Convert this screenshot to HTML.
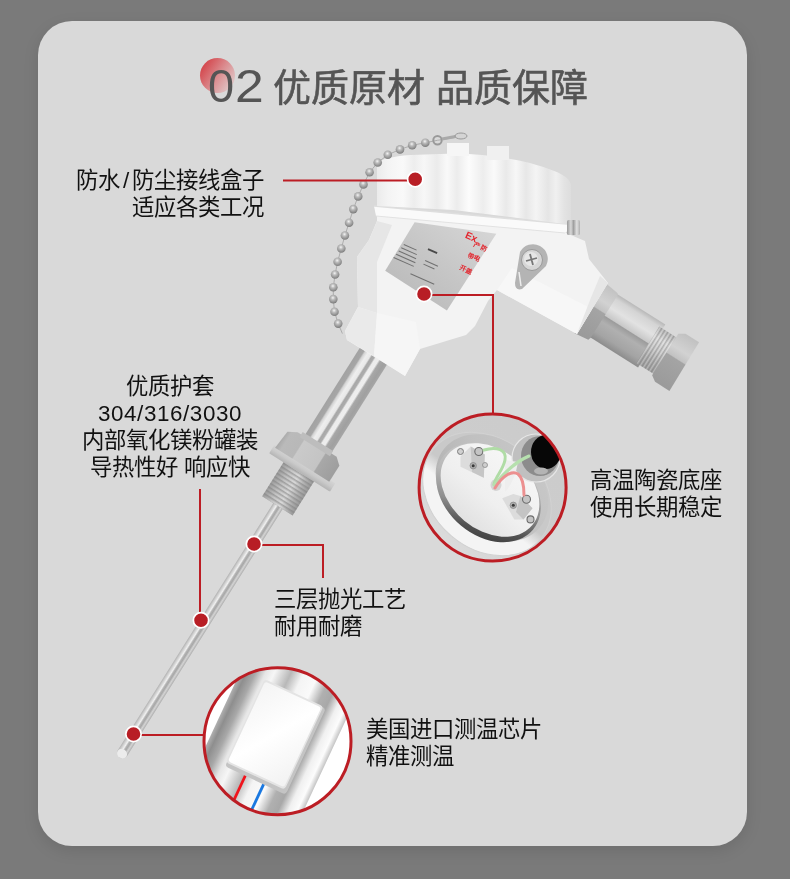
<!DOCTYPE html>
<html lang="zh-CN">
<head>
<meta charset="utf-8">
<style>
html,body{margin:0;padding:0;}
body{width:790px;height:879px;background:#7a7a7a;position:relative;overflow:hidden;font-family:"Liberation Sans",sans-serif;}
.card{position:absolute;left:38px;top:21px;width:709px;height:825px;background:#d9d9d9;border-radius:34px;box-shadow:0 5px 16px rgba(0,0,0,0.10);}
svg{position:absolute;left:0;top:0;}
.t{position:absolute;font-size:22.4px;line-height:27px;color:#111;white-space:nowrap;will-change:transform;}
.num{position:absolute;left:208px;top:61px;font-size:47px;line-height:50px;color:#555;white-space:nowrap;transform:scaleX(1.1);transform-origin:0 0;will-change:transform;}
.ttl{position:absolute;top:60px;font-size:38px;line-height:56px;color:#555;font-weight:500;white-space:nowrap;will-change:transform;-webkit-text-stroke:0.6px #555;}
</style>
</head>
<body>
<div class="card"></div>
<svg width="790" height="879" viewBox="0 0 790 879">
  <defs>
    <linearGradient id="tdot" x1="0.05" y1="0.25" x2="0.95" y2="0.85">
      <stop offset="0" stop-color="#d4464c"/>
      <stop offset="0.5" stop-color="#db8d90"/>
      <stop offset="1" stop-color="#dfcdcd"/>
    </linearGradient>
  </defs>
  <circle cx="217.5" cy="75.5" r="17.5" fill="url(#tdot)"/>
</svg>
<div class="num" style="left:208px;transform:scaleX(1.0)">0</div><div class="num" style="left:235px">2</div>
<div class="ttl" style="left:273px">优质原材</div>
<div class="ttl" style="left:436px">品质保障</div>

<svg width="790" height="879" viewBox="0 0 790 879">
<defs>
  <linearGradient id="rodG" gradientUnits="userSpaceOnUse" x1="-14.5" y1="0" x2="17.5" y2="0">
    <stop offset="0" stop-color="#a2a2a2"/>
    <stop offset="0.16" stop-color="#a6a6a6"/>
    <stop offset="0.21" stop-color="#d4d4d4"/>
    <stop offset="0.3" stop-color="#eeeeee"/>
    <stop offset="0.41" stop-color="#e8e8e8"/>
    <stop offset="0.46" stop-color="#a8a8a8"/>
    <stop offset="0.54" stop-color="#acacac"/>
    <stop offset="0.59" stop-color="#ececec"/>
    <stop offset="0.7" stop-color="#eeeeee"/>
    <stop offset="0.76" stop-color="#a8a8a8"/>
    <stop offset="0.9" stop-color="#a0a0a0"/>
    <stop offset="1" stop-color="#a6a6a6"/>
  </linearGradient>
  <linearGradient id="probeG" gradientUnits="userSpaceOnUse" x1="-5.4" y1="0" x2="6.6" y2="0">
    <stop offset="0" stop-color="#a8a8a8"/>
    <stop offset="0.2" stop-color="#d0d0d0"/>
    <stop offset="0.38" stop-color="#f0f0f0"/>
    <stop offset="0.5" stop-color="#b4b4b4"/>
    <stop offset="0.62" stop-color="#a8a8a8"/>
    <stop offset="0.78" stop-color="#d4d4d4"/>
    <stop offset="1" stop-color="#a4a4a4"/>
  </linearGradient>
  <linearGradient id="nutG" gradientUnits="userSpaceOnUse" x1="-32" y1="0" x2="31" y2="0">
    <stop offset="0" stop-color="#aaaaaa"/>
    <stop offset="0.08" stop-color="#bababa"/>
    <stop offset="0.3" stop-color="#b8b8b8"/>
    <stop offset="0.32" stop-color="#cacaca"/>
    <stop offset="0.7" stop-color="#c4c4c4"/>
    <stop offset="0.72" stop-color="#a8a8a8"/>
    <stop offset="1" stop-color="#9e9e9e"/>
  </linearGradient>
  <linearGradient id="washG" gradientUnits="userSpaceOnUse" x1="0" y1="126" x2="0" y2="136">
    <stop offset="0" stop-color="#d4d4d4"/>
    <stop offset="0.5" stop-color="#cacaca"/>
    <stop offset="1" stop-color="#b4b4b4"/>
  </linearGradient>
  <linearGradient id="thrG" gradientUnits="userSpaceOnUse" x1="-18" y1="0" x2="18" y2="0">
    <stop offset="0" stop-color="#9c9c9c"/>
    <stop offset="0.3" stop-color="#c4c4c4"/>
    <stop offset="0.55" stop-color="#d8d8d8"/>
    <stop offset="0.8" stop-color="#b0b0b0"/>
    <stop offset="1" stop-color="#989898"/>
  </linearGradient>
  <pattern id="thrPV" patternUnits="userSpaceOnUse" width="3.6" height="60" x="0" y="0"><rect width="1.3" height="60" fill="#7a7a7a" opacity="0.4"/><rect x="2" width="1" height="60" fill="#ffffff" opacity="0.35"/></pattern>
  <linearGradient id="gthrG" gradientUnits="userSpaceOnUse" x1="0" y1="-20" x2="0" y2="23">
    <stop offset="0" stop-color="#b0b0b0"/>
    <stop offset="0.25" stop-color="#d8d8d8"/>
    <stop offset="0.5" stop-color="#c4c4c4"/>
    <stop offset="0.75" stop-color="#a8a8a8"/>
    <stop offset="1" stop-color="#989898"/>
  </linearGradient>
  <pattern id="thrP" patternUnits="userSpaceOnUse" width="40" height="4" x="0" y="0">
    <rect width="40" height="1.6" fill="#808080" opacity="0.55"/>
  </pattern>
  <linearGradient id="gmidG" gradientUnits="userSpaceOnUse" x1="0" y1="-25" x2="0" y2="26">
    <stop offset="0" stop-color="#b8b8b8"/>
    <stop offset="0.1" stop-color="#d4d4d4"/>
    <stop offset="0.3" stop-color="#e2e2e2"/>
    <stop offset="0.48" stop-color="#c8c8c8"/>
    <stop offset="0.5" stop-color="#9c9c9c"/>
    <stop offset="0.62" stop-color="#b0b0b0"/>
    <stop offset="0.85" stop-color="#a4a4a4"/>
    <stop offset="1" stop-color="#8c8c8c"/>
  </linearGradient>
  <linearGradient id="gnutG" gradientUnits="userSpaceOnUse" x1="0" y1="-29" x2="0" y2="30">
    <stop offset="0" stop-color="#c0c0c0"/>
    <stop offset="0.3" stop-color="#d2d2d2"/>
    <stop offset="0.45" stop-color="#c2c2c2"/>
    <stop offset="0.47" stop-color="#a4a4a4"/>
    <stop offset="1" stop-color="#9a9a9a"/>
  </linearGradient>
  <linearGradient id="labelG" x1="1" y1="0" x2="0" y2="1">
    <stop offset="0" stop-color="#d8d8d8"/>
    <stop offset="0.5" stop-color="#c6c6c6"/>
    <stop offset="1" stop-color="#b6b6b6"/>
  </linearGradient>
  <linearGradient id="capG" gradientUnits="userSpaceOnUse" x1="377" y1="0" x2="571" y2="0">
    <stop offset="0.0000" stop-color="#ebebeb"/>
    <stop offset="0.0567" stop-color="#f4f4f4"/>
    <stop offset="0.1340" stop-color="#f9f9f9"/>
    <stop offset="0.1907" stop-color="#ededed"/>
    <stop offset="0.2423" stop-color="#f7f7f7"/>
    <stop offset="0.3093" stop-color="#ebebeb"/>
    <stop offset="0.3608" stop-color="#f9f9f9"/>
    <stop offset="0.4124" stop-color="#ececec"/>
    <stop offset="0.4742" stop-color="#fcfcfc"/>
    <stop offset="0.5464" stop-color="#ededed"/>
    <stop offset="0.6031" stop-color="#fafafa"/>
    <stop offset="0.6649" stop-color="#e9e9e9"/>
    <stop offset="0.7165" stop-color="#f7f7f7"/>
    <stop offset="0.7680" stop-color="#e7e7e7"/>
    <stop offset="0.8196" stop-color="#f4f4f4"/>
    <stop offset="0.8814" stop-color="#e5e5e5"/>
    <stop offset="0.9227" stop-color="#f0f0f0"/>
    <stop offset="0.9639" stop-color="#e3e3e3"/>
    <stop offset="1.0000" stop-color="#dddddd"/>
  </linearGradient>
  <linearGradient id="scrG" x1="0" y1="0" x2="1" y2="0">
    <stop offset="0" stop-color="#9a9a9a"/>
    <stop offset="0.3" stop-color="#d8d8d8"/>
    <stop offset="0.5" stop-color="#a0a0a0"/>
    <stop offset="0.75" stop-color="#e0e0e0"/>
    <stop offset="1" stop-color="#b0b0b0"/>
  </linearGradient>
  <radialGradient id="bead" cx="0.45" cy="0.35" r="0.65">
    <stop offset="0" stop-color="#f4f4f4"/>
    <stop offset="0.35" stop-color="#bcbcbc"/>
    <stop offset="0.8" stop-color="#909090"/>
    <stop offset="1" stop-color="#7a7a7a"/>
  </radialGradient>
</defs>

<!-- ===== gland (right fitting) ===== -->
<g transform="translate(592.8,308.2) rotate(32.3)">
  <rect x="10" y="-25" width="60" height="51" fill="url(#gmidG)"/>
  <rect x="66" y="-20" width="24" height="43" fill="url(#gthrG)"/>
  <rect x="66" y="-20" width="24" height="43" fill="url(#thrPV)"/>
  <polygon points="86,-24 92,-28 108,-28 109,29 92,29 86,25" fill="url(#gnutG)"/>
  <polygon points="-2,-28 13,-26 14,-24 14,26 13,29 -2,31" fill="url(#gnutG)"/>
</g>

<!-- ===== rod / nut / thread / probe ===== -->
<g transform="translate(371.2,356.9) rotate(32.2)">
  <rect x="-4.9" y="170" width="11" height="303" rx="5.5" fill="url(#probeG)"/>
  <ellipse cx="0.6" cy="468.5" rx="5.2" ry="4.5" fill="#ececec"/>
  <rect x="-18" y="133" width="36" height="43" fill="url(#thrG)"/>
  <rect x="-18" y="133" width="36" height="43" fill="url(#thrP)"/>
  <rect x="-35" y="126" width="72" height="10" rx="1" fill="url(#washG)"/>
  <polygon points="-31,108 -22,103 24,103 31,109 31,128 -33,128" fill="url(#nutG)"/>
  <rect x="-14.5" y="-20" width="32" height="124" fill="url(#rodG)"/>
  <rect x="-18" y="100" width="36" height="6" fill="#bdbdbd"/>
</g>

<!-- ===== white body + arm silhouette ===== -->
<polygon points="377,214 377,221 369,240 357,257 358,307 345,331 347,340 405,376 420,349 443,342 466,335 475,326 488,301 497,290 577,334 608,283 589,259 585,241 566,233" fill="#f3f3f3"/>
<!-- body left face shading -->
<polygon points="377,221 369,240 357,257 358,307 377,313 377,262 392,225" fill="#e6e6e6"/>
<!-- neck left face -->
<polygon points="358,307 345,331 347,340 374,356 377,313" fill="#eaeaea"/>
<!-- neck front -->
<polygon points="377,313 374,356 405,376 420,349 416,322" fill="#f6f6f6"/>
<!-- arm front face -->
<polygon points="497,290 577,334 592,309 512,268" fill="#f7f7f7"/>
<!-- arm end face -->
<polygon points="577,334 608,283 600,276 590,300" fill="#e6e6e6"/>

<!-- label -->
<polygon points="414.6,222.3 496.3,233.7 446.9,310.6 385.2,270.8" fill="url(#labelG)"/>
<g transform="translate(404,244) rotate(24)" fill="#707070">
  <rect x="0" y="0" width="14" height="1"/>
  <rect x="-1" y="4" width="17" height="1"/>
  <rect x="-2" y="8" width="19" height="1"/>
  <rect x="-3" y="12" width="21" height="1"/>
  <rect x="-4" y="16" width="22" height="1"/>
  <rect x="24" y="-6" width="10" height="1.8" fill="#4a4a4a"/>
  <rect x="26" y="6" width="14" height="1"/>
  <rect x="26" y="10" width="12" height="1"/>
  <rect x="18" y="24" width="26" height="1"/>
</g>
<g fill="#e3262e" font-size="6.5" font-weight="bold">
  <text x="464.5" y="237.5" transform="rotate(24 464.5 237.5)" font-size="10">Ex</text>
  <text x="473.5" y="246.5" transform="rotate(24 473.5 246.5)">产防</text>
  <text x="467" y="256.5" transform="rotate(24 467 256.5)">带电</text>
  <text x="459" y="268.7" transform="rotate(24 459 268.7)">开盖</text>
</g>

<!-- arm ear & screw -->
<path d="M520 252 A14 14 0 0 1 546 266 L522 289 Q515 291 515 283 Z" fill="#b4b4b4"/>
<path d="M519 272 L521 286" stroke="#eee" stroke-width="1.5"/>
<circle cx="532" cy="260" r="10.5" fill="#d6d6d6" stroke="#9a9a9a" stroke-width="1"/>
<circle cx="531" cy="259" r="7" fill="#e6e6e6"/>
<path d="M526 261l11-3M530 254l3 11" stroke="#777" stroke-width="1.8"/>

<!-- flange -->
<polygon points="374,206 567,224 571,228 565,233 376,216" fill="#fafafa"/>
<polyline points="374,206 567,224" fill="none" stroke="#dedede" stroke-width="1.5"/>
<polyline points="376,216 565,233" fill="none" stroke="#e2e2e2" stroke-width="1"/>
<!-- cap -->
<path d="M377,163 C382,159 392,156.5 410,155 L455,153.5 C480,154 505,157 530,163 C548,168 562,173 568,179 L571,184 L571,221 L565,224 L453.6,210 L377,206 Z" fill="url(#capG)"/>
<!-- small screw top of arm -->
<rect x="567" y="220" width="13" height="15" rx="1.5" fill="url(#scrG)"/>
<!-- nubs -->
<rect x="447" y="143" width="22" height="13" fill="#f6f6f6"/>
<rect x="487" y="146" width="22" height="14" fill="#f0f0f0"/>

<!-- chain -->
<polyline points="458,137 437.5,140.3 425.3,142.7 412.2,145.3 400,149.4 387.8,154.8 377.7,162.5 369.6,172.3 363.5,184.4 358.2,196.4 353.3,209.1 349.1,222.7 344.9,235.5 341.3,248.5 337.6,261.8 335.1,274.5 333.3,287.3 333.3,299.1 334.5,311.8 338.2,323.6 342.4,333.6" fill="none" stroke="#a8a8a8" stroke-width="0.9"/>
<g fill="url(#bead)">
  <circle cx="425.3" cy="142.7" r="4.3"/><circle cx="412.2" cy="145.3" r="4.3"/>
  <circle cx="400" cy="149.4" r="4.3"/><circle cx="387.8" cy="154.8" r="4.3"/>
  <circle cx="377.7" cy="162.5" r="4.3"/><circle cx="369.6" cy="172.3" r="4.3"/>
  <circle cx="363.5" cy="184.4" r="4.3"/><circle cx="358.2" cy="196.4" r="4.3"/>
  <circle cx="353.3" cy="209.1" r="4.3"/><circle cx="349.1" cy="222.7" r="4.3"/>
  <circle cx="344.9" cy="235.5" r="4.3"/><circle cx="341.3" cy="248.5" r="4.3"/>
  <circle cx="337.6" cy="261.8" r="4.3"/><circle cx="335.1" cy="274.5" r="4.3"/>
  <circle cx="333.3" cy="287.3" r="4.3"/><circle cx="333.3" cy="299.1" r="4.3"/>
  <circle cx="334.5" cy="311.8" r="4.3"/><circle cx="338.2" cy="323.6" r="4.3"/>
</g>
<circle cx="437.5" cy="140.3" r="4.2" fill="none" stroke="#999" stroke-width="2"/>
<path d="M442 139 L458 136" stroke="#aaa" stroke-width="3"/>
<ellipse cx="461" cy="136" rx="6" ry="3" fill="#d4d4d4" stroke="#999" stroke-width="1"/>

</svg>

<svg width="790" height="879" viewBox="0 0 790 879">
<defs>
  <clipPath id="c1"><circle cx="492.6" cy="487.5" r="73"/></clipPath>
  <clipPath id="rimClip"><ellipse cx="487" cy="494" rx="70" ry="55" transform="rotate(40 487 494)"/></clipPath>
  <linearGradient id="rimW" gradientUnits="userSpaceOnUse" x1="475.2" y1="505.4" x2="484.8" y2="492.6">
    <stop offset="0" stop-color="#f4f4f4"/>
    <stop offset="1" stop-color="#f4f4f4" stop-opacity="0"/>
  </linearGradient>
  <clipPath id="gapClip"><ellipse cx="488.5" cy="492.5" rx="58" ry="43" transform="rotate(40 488.5 492.5)"/></clipPath>
  <linearGradient id="gapS" gradientUnits="userSpaceOnUse" x1="470" y1="545" x2="490" y2="455">
    <stop offset="0" stop-color="#3a3a3a"/>
    <stop offset="0.2" stop-color="#505050"/>
    <stop offset="0.45" stop-color="#8e8e8e"/>
    <stop offset="0.75" stop-color="#b8b8b8"/>
    <stop offset="1" stop-color="#c4c4c4"/>
  </linearGradient>
  <clipPath id="c2"><circle cx="277.5" cy="741.2" r="73"/></clipPath>
  <linearGradient id="c1bg" x1="1" y1="0" x2="0" y2="1">
    <stop offset="0" stop-color="#cbcbcb"/>
    <stop offset="0.5" stop-color="#cdcdcd"/>
    <stop offset="1" stop-color="#e2e2e2"/>
  </linearGradient>
  <linearGradient id="rimG" x1="0.3" y1="1" x2="0.7" y2="0">
    <stop offset="0" stop-color="#f6f6f6"/>
    <stop offset="0.29" stop-color="#f2f2f2"/>
    <stop offset="0.37" stop-color="#cdcdcd"/>
    <stop offset="1" stop-color="#c6c6c6"/>
  </linearGradient>
  <linearGradient id="gapG" x1="0.4" y1="1" x2="0.6" y2="0">
    <stop offset="0" stop-color="#3c3c3c"/>
    <stop offset="0.14" stop-color="#444444"/>
    <stop offset="0.3" stop-color="#a8a8a8"/>
    <stop offset="1" stop-color="#c4c4c4"/>
  </linearGradient>
  <linearGradient id="wallG" x1="0.2" y1="1" x2="0.8" y2="0">
    <stop offset="0" stop-color="#b0b0b0"/>
    <stop offset="0.5" stop-color="#c0c0c0"/>
    <stop offset="1" stop-color="#c8c8c8"/>
  </linearGradient>
  <linearGradient id="discG" x1="0" y1="0" x2="0" y2="1">
    <stop offset="0" stop-color="#f6f6f6"/>
    <stop offset="0.6" stop-color="#efefef"/>
    <stop offset="1" stop-color="#e2e2e2"/>
  </linearGradient>
  <radialGradient id="holeG" cx="0.5" cy="0.5" r="0.5">
    <stop offset="0" stop-color="#0a0a0a"/>
    <stop offset="0.7" stop-color="#1a1a1a"/>
    <stop offset="1" stop-color="#3a3a3a"/>
  </radialGradient>
  <linearGradient id="tubeG" gradientUnits="userSpaceOnUse" x1="-63" y1="0" x2="53" y2="0">
    <stop offset="0" stop-color="#b0b0b0"/>
    <stop offset="0.05" stop-color="#8e8e8e"/>
    <stop offset="0.12" stop-color="#a8a8a8"/>
    <stop offset="0.2" stop-color="#e6e6e6"/>
    <stop offset="0.27" stop-color="#f6f6f6"/>
    <stop offset="0.4" stop-color="#b8b8b8"/>
    <stop offset="0.5" stop-color="#f4f4f4"/>
    <stop offset="0.62" stop-color="#fafafa"/>
    <stop offset="0.72" stop-color="#b0b0b0"/>
    <stop offset="0.8" stop-color="#a8a8a8"/>
    <stop offset="0.88" stop-color="#f0f0f0"/>
    <stop offset="0.95" stop-color="#fcfcfc"/>
    <stop offset="1" stop-color="#c4c4c4"/>
  </linearGradient>
  <linearGradient id="chipG" x1="0" y1="0" x2="1" y2="1">
    <stop offset="0" stop-color="#f4f4f4"/>
    <stop offset="0.5" stop-color="#ffffff"/>
    <stop offset="1" stop-color="#f2f2f2"/>
  </linearGradient>
</defs>

<!-- ===== red connector lines ===== -->
<g stroke="#bc1d24" stroke-width="2" fill="none">
  <path d="M283 180.5H415"/>
  <path d="M424 295H493V414"/>
  <path d="M254 545H323V578"/>
  <path d="M200 489V620"/>
  <path d="M133 735H204"/>
</g>

<!-- ===== inset 1: ceramic base ===== -->
<g clip-path="url(#c1)">
  <rect x="418" y="413" width="150" height="150" fill="url(#c1bg)"/>
  <!-- housing rim -->
  <g clip-path="url(#rimClip)">
    <rect x="418" y="413" width="150" height="150" fill="#c9c9c9"/>
    <rect x="418" y="413" width="150" height="150" fill="url(#rimW)"/>
  </g>
  <ellipse cx="487" cy="494" rx="70" ry="55" transform="rotate(40 487 494)" fill="none" stroke="#d2d2d2" stroke-width="1"/>
  <!-- inner wall -->
  <ellipse cx="492" cy="488" rx="62" ry="47" transform="rotate(40 492 488)" fill="url(#wallG)"/>
  <!-- dark gap -->
  <g clip-path="url(#gapClip)"><rect x="418" y="413" width="150" height="150" fill="url(#gapS)"/></g>
  <!-- ceramic disc -->
  <ellipse cx="490" cy="490" rx="55" ry="40" transform="rotate(40 490 490)" fill="url(#discG)"/>
  <!-- cable hole -->
  <circle cx="536" cy="458" r="24" fill="#c0c0c0" stroke="#e6e6e6" stroke-width="1.2"/>
  <ellipse cx="540" cy="456" rx="19" ry="20" fill="#8c8c8c"/>
  <ellipse cx="546" cy="452" rx="15" ry="17" fill="#070707"/>
  <ellipse cx="541" cy="471" rx="7" ry="3.5" fill="#b4b4b4"/>
  <!-- disc covers lower-left part of hole -->
  <path d="M505 492 C512 484 516 474 518 462 L505 460 Z" fill="#eeeeee"/>
  <!-- terminal block 1 -->
  <polygon points="460.5,456.6 470.7,446.4 484.8,454.5 483.8,477.8 460.5,466.7" fill="#dcdcdc"/>
  <polygon points="470.7,446.4 484.8,454.5 483.8,477.8 472,472" fill="#c6c6c6"/>
  <circle cx="473.2" cy="465.7" r="3.2" fill="#b0b0b0" stroke="#8a8a8a" stroke-width="0.8"/>
  <circle cx="473.2" cy="465.7" r="1.5" fill="#3a3a3a"/>
  <circle cx="478.8" cy="451.5" r="4" fill="#c4c4c4" stroke="#6c6c6c" stroke-width="1.1"/>
  <circle cx="460.5" cy="451.5" r="3" fill="#d0d0d0" stroke="#7c7c7c" stroke-width="1"/>
  <circle cx="485" cy="465" r="2.5" fill="#d0d0d0" stroke="#8c8c8c" stroke-width="0.8"/>
  <!-- disc hole -->
  <ellipse cx="496" cy="485" rx="5.5" ry="6" fill="#d4d4d4"/>
  <!-- terminal block 2 -->
  <polygon points="502.2,498.2 513.3,494.1 520.4,496.1 532.5,508.3 523.4,519.4 514.3,519.4" fill="#dcdcdc"/>
  <polygon points="520.4,496.1 532.5,508.3 523.4,519.4 516,512" fill="#c4c4c4"/>
  <circle cx="513.3" cy="505.3" r="3.2" fill="#b0b0b0" stroke="#8a8a8a" stroke-width="0.8"/>
  <circle cx="513.3" cy="505.3" r="1.5" fill="#3a3a3a"/>
  <circle cx="526.5" cy="499.2" r="4" fill="#c4c4c4" stroke="#6c6c6c" stroke-width="1.1"/>
  <circle cx="530.5" cy="519.4" r="3.5" fill="#c4c4c4" stroke="#6c6c6c" stroke-width="1.1"/>
  <!-- wires -->
  <g fill="none" stroke-width="3" stroke-linecap="round">
    <path d="M484 450 C497 446 507 450 505 460 C503 470 496 476 494 484" stroke="#b0dca6"/>
    <path d="M494 485 C505 472 515 462 529 456" stroke="#b6e0ae"/>
    <path d="M495 488 C502 476 512 470 518 474 C523 478 524 488 524 495" stroke="#ec9090"/>
  </g>
</g>
<circle cx="492.6" cy="487.5" r="73.5" fill="none" stroke="#bc1d24" stroke-width="3"/>

<!-- ===== inset 2: chip ===== -->
<g clip-path="url(#c2)">
  <rect x="200" y="664" width="156" height="156" fill="#ffffff"/>
  <g transform="translate(277.5,741.2) rotate(25)">
    <rect x="-63" y="-100" width="116" height="200" fill="url(#tubeG)"/>
    <rect x="-16" y="40" width="2.8" height="45" fill="#f0141c"/>
    <rect x="4.2" y="40" width="2.8" height="45" fill="#1a78e0"/>
    <rect x="-37" y="-50" width="67" height="95" rx="3.5" fill="#c4c4c4"/>
    <rect x="-38" y="-51" width="65" height="92" rx="3.5" fill="#e4e4e4"/>
    <rect x="-36.5" y="-49" width="62" height="88" rx="3" fill="url(#chipG)"/>
  </g>
</g>
<circle cx="277.5" cy="741.2" r="73.5" fill="none" stroke="#bc1d24" stroke-width="3"/>

<!-- ===== red dots ===== -->
<g fill="#b81e25" stroke="#ffffff" stroke-width="1.7">
  <circle cx="415.2" cy="179.2" r="7.65"/>
  <circle cx="424" cy="294" r="7.65"/>
  <circle cx="254" cy="544" r="7.65"/>
  <circle cx="201" cy="620.2" r="7.65"/>
  <circle cx="133.5" cy="734" r="7.65"/>
</g>
</svg>


<div class="t" style="right:526px;top:167px;text-align:right">防水<span style="margin:0 3px">/</span>防尘接线盒子<br>适应各类工况</div>
<div class="t" style="left:60px;width:220px;top:373px;text-align:center">优质护套<br><span style="letter-spacing:0.6px">304/316/3030</span><br>内部氧化镁粉罐装<br>导热性好 响应快</div>
<div class="t" style="left:274px;top:586px">三层抛光工艺<br>耐用耐磨</div>
<div class="t" style="left:590px;top:467px">高温陶瓷底座<br>使用长期稳定</div>
<div class="t" style="left:366px;top:716px">美国进口测温芯片<br>精准测温</div>
</body>
</html>
